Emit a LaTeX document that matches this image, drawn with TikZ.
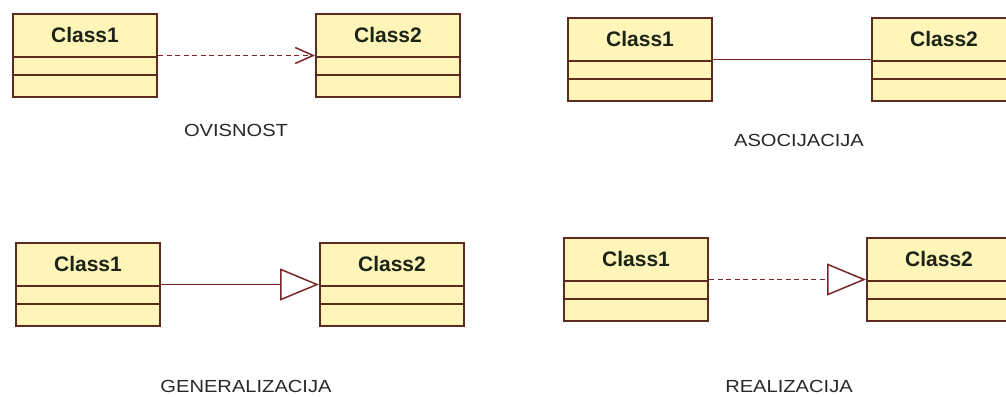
\documentclass[tikz,border=0pt]{standalone}
\usepackage{fontspec}
\setmainfont{Liberation Sans}
\newfontfamily\labfont[FakeStretch=1.15]{Liberation Sans}
\usetikzlibrary{arrows.meta,calc}
\definecolor{boxfill}{RGB}{255,245,184}
\definecolor{boxline}{RGB}{92,45,30}
\definecolor{conline}{RGB}{120,40,40}
\definecolor{nametext}{RGB}{28,36,24}
\definecolor{labtext}{RGB}{40,40,40}
\tikzset{
  classbox/.style={draw=boxline, fill=boxfill, line width=2pt, minimum width=144pt, minimum height=83pt, inner sep=0pt, anchor=north west},
  classdiv/.style={draw=boxline, line width=2pt},
  classname/.style={font=\fontsize{21}{24}\selectfont\bfseries, text=nametext, inner sep=0pt},
  caption/.style={font=\labfont\fontsize{17.5}{20}\selectfont, text=labtext, inner sep=0pt},
  conn/.style={draw=conline, line width=1.5pt},
  depend/.style={conn, dash pattern=on 5pt off 3.5pt, -{Straight Barb[length=18pt,width=16pt]}},
  genarrow/.style={conn, -{Triangle[open,length=39pt,width=32pt]}},
  realarrow/.style={conn, dash pattern=on 5pt off 3.5pt, -{Triangle[open,length=39pt,width=32pt]}},
}
\newcommand\umlcls[4]{%
  \node[classbox] (#1) at (#2,#3) {};
  \draw[classdiv] ($(#1.north west)+(0,44)$) -- ($(#1.north east)+(0,44)$);
  \draw[classdiv] ($(#1.north west)+(0,62)$) -- ($(#1.north east)+(0,62)$);
  \node[classname] (#1-name) at ($(#1.north)+(0,22)$) {#4};
}
\begin{document}
\begin{tikzpicture}[x=1pt,y=-1pt]
\useasboundingbox[fill=white] (0,0) rectangle (1006,396);
% top left: dependency
\umlcls{a1}{12}{13}{Class1}
\umlcls{a2}{315}{13}{Class2}
\draw[depend] (a1.east) -- (a2.west);
\node[caption] (la) at (236,130) {OVISNOST};
% top right: association
\umlcls{b1}{567}{17}{Class1}
\umlcls{b2}{871}{17}{Class2}
\draw[conn] (b1.east) -- (b2.west);
\node[caption] (lb) at (799,140) {ASOCIJACIJA};
% bottom left: generalization
\umlcls{c1}{15}{242}{Class1}
\umlcls{c2}{319}{242}{Class2}
\draw[genarrow] (c1.east) -- (c2.west);
\node[caption] (lc) at (246,386) {GENERALIZACIJA};
% bottom right: realization
\umlcls{d1}{563}{237}{Class1}
\umlcls{d2}{866}{237}{Class2}
\draw[realarrow] (d1.east) -- (d2.west);
\node[caption] (ld) at (789,386) {REALIZACIJA};
\end{tikzpicture}
\end{document}
